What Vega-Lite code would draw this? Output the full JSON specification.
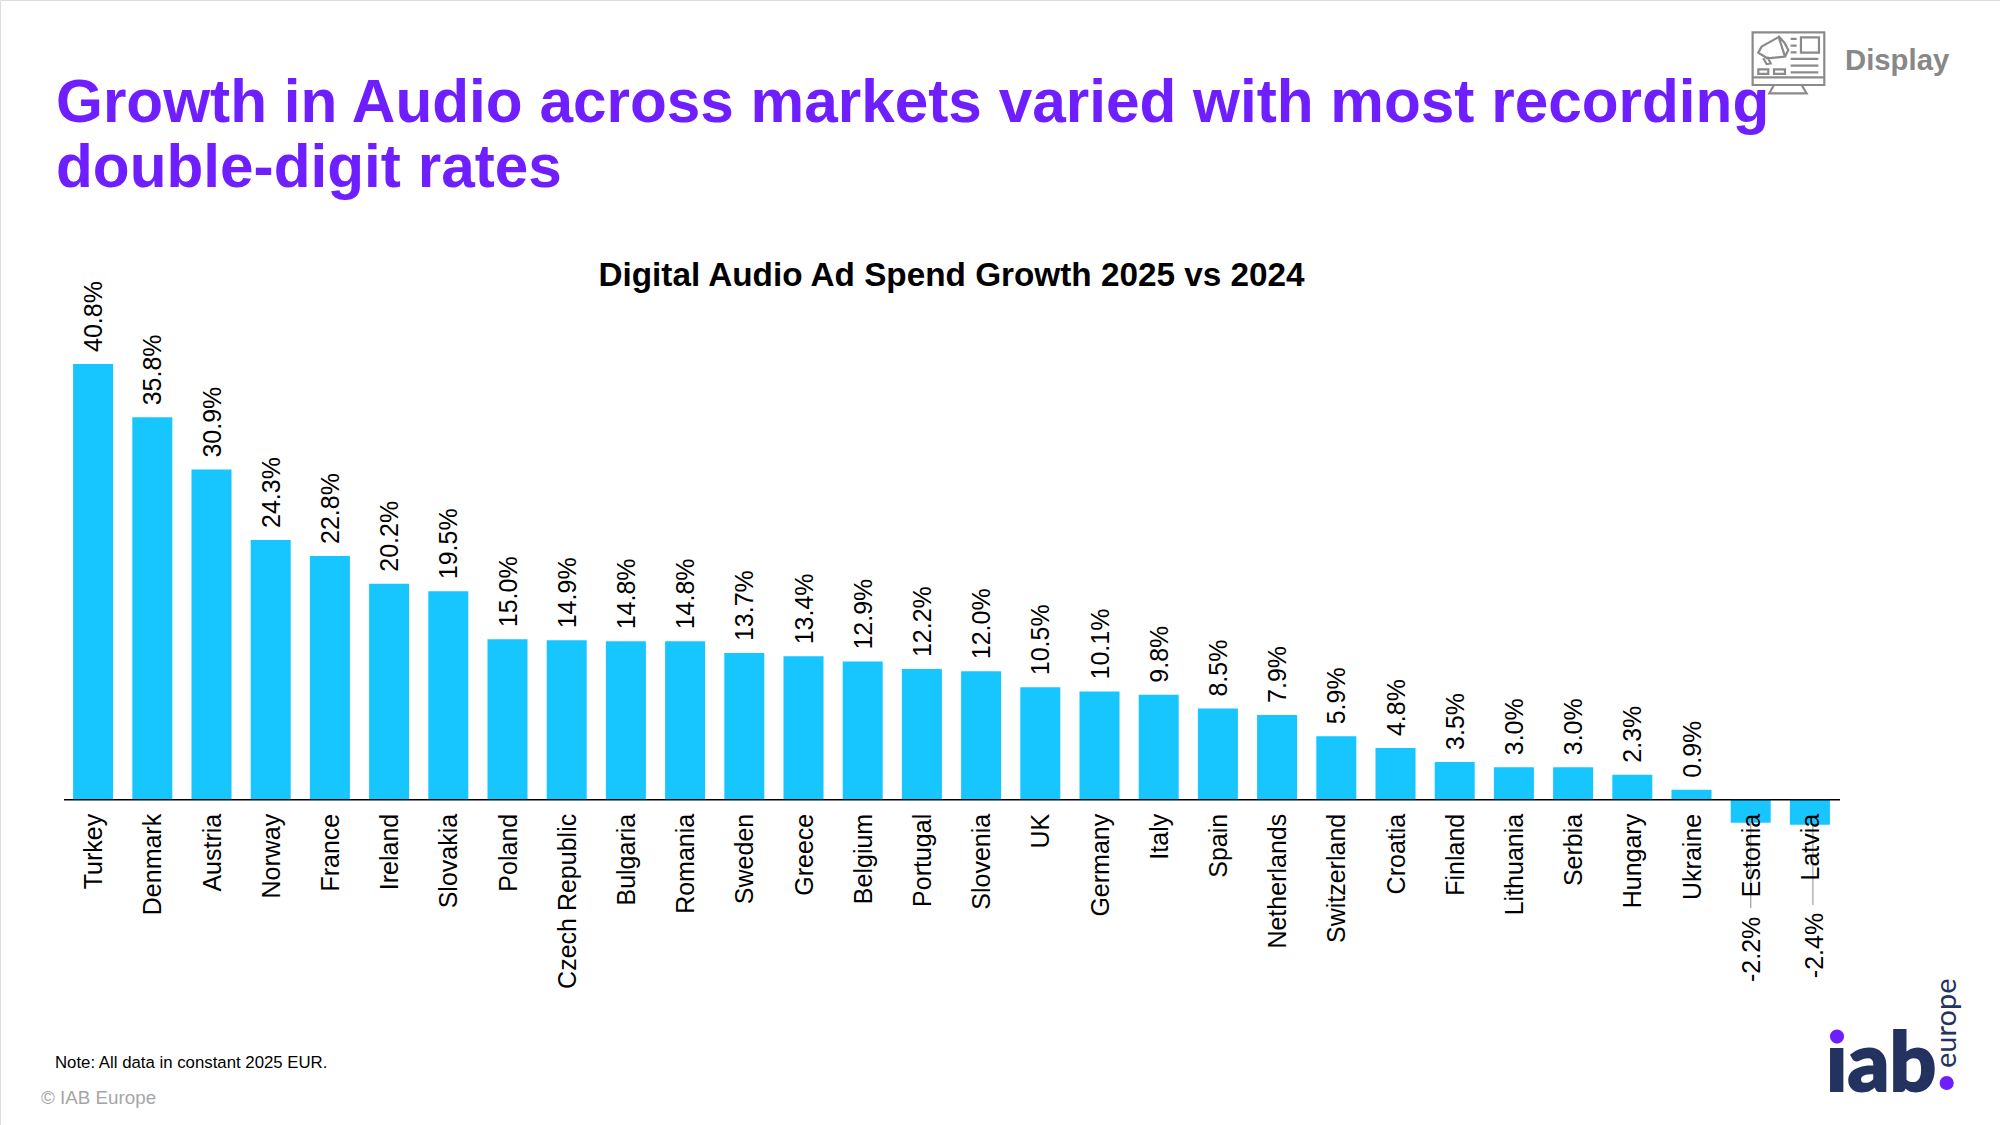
{"$schema":"https://vega.github.io/schema/vega-lite/v6.json","width":2000,"height":1125,"padding":0,"autosize":{"type":"none"},"background":"white","title":{"text":["Growth in Audio across markets varied with most recording","double-digit rates"],"anchor":"start","frame":"group","dx":56,"dy":199,"offset":0,"font":"Liberation Sans","fontWeight":"bold","fontSize":60.3,"lineHeight":65,"color":"#6f1fff"},"data":{"values":[{"country":"Turkey","growth":40.8,"label":"40.8%"},{"country":"Denmark","growth":35.8,"label":"35.8%"},{"country":"Austria","growth":30.9,"label":"30.9%"},{"country":"Norway","growth":24.3,"label":"24.3%"},{"country":"France","growth":22.8,"label":"22.8%"},{"country":"Ireland","growth":20.2,"label":"20.2%"},{"country":"Slovakia","growth":19.5,"label":"19.5%"},{"country":"Poland","growth":15.0,"label":"15.0%"},{"country":"Czech Republic","growth":14.9,"label":"14.9%"},{"country":"Bulgaria","growth":14.8,"label":"14.8%"},{"country":"Romania","growth":14.8,"label":"14.8%"},{"country":"Sweden","growth":13.7,"label":"13.7%"},{"country":"Greece","growth":13.4,"label":"13.4%"},{"country":"Belgium","growth":12.9,"label":"12.9%"},{"country":"Portugal","growth":12.2,"label":"12.2%"},{"country":"Slovenia","growth":12.0,"label":"12.0%"},{"country":"UK","growth":10.5,"label":"10.5%"},{"country":"Germany","growth":10.1,"label":"10.1%"},{"country":"Italy","growth":9.8,"label":"9.8%"},{"country":"Spain","growth":8.5,"label":"8.5%"},{"country":"Netherlands","growth":7.9,"label":"7.9%"},{"country":"Switzerland","growth":5.9,"label":"5.9%"},{"country":"Croatia","growth":4.8,"label":"4.8%"},{"country":"Finland","growth":3.5,"label":"3.5%"},{"country":"Lithuania","growth":3.0,"label":"3.0%"},{"country":"Serbia","growth":3.0,"label":"3.0%"},{"country":"Hungary","growth":2.3,"label":"2.3%"},{"country":"Ukraine","growth":0.9,"label":"0.9%"},{"country":"Estonia","growth":-2.2,"label":"-2.2%"},{"country":"Latvia","growth":-2.4,"label":"-2.4%"}]},"encoding":{"x":{"field":"country","type":"nominal","sort":null,"scale":{"range":[63.5,1839.5],"paddingInner":0.324,"paddingOuter":0.162},"axis":{"title":null,"orient":"bottom","offset":-325.7,"labelAngle":-90,"labelOffset":1,"labelFont":"Liberation Sans","labelFontSize":25,"labelColor":"#000000","labelPadding":14,"labelLimit":400,"labelOverlap":false,"ticks":false,"grid":false,"domainColor":"#000000","domainWidth":1.5,"zindex":1}},"y":{"field":"growth","type":"quantitative","scale":{"domain":[-30.53,74.91],"range":[1125,0],"nice":false,"zero":false},"axis":null}},"layer":[{"mark":{"type":"bar","color":"#17c6ff"}},{"transform":[{"filter":"datum.growth>=0"}],"mark":{"type":"text","angle":270,"align":"left","baseline":"middle","dx":12,"dy":1,"font":"Liberation Sans","fontSize":25,"color":"#000000"},"encoding":{"text":{"field":"label"}}},{"transform":[{"filter":"datum.country==='Estonia'"}],"mark":{"type":"rule","color":"#a6a6a6","strokeWidth":1.3},"encoding":{"y2":{"datum":-10.19}}},{"transform":[{"filter":"datum.country==='Latvia'"}],"mark":{"type":"rule","color":"#a6a6a6","strokeWidth":1.3,"xOffset":3},"encoding":{"y2":{"datum":-9.9}}},{"transform":[{"filter":"datum.country==='Estonia'"}],"mark":{"type":"text","angle":270,"align":"right","baseline":"middle","dx":-94,"dy":1,"font":"Liberation Sans","fontSize":25,"color":"#000000"},"encoding":{"text":{"field":"label"}}},{"transform":[{"filter":"datum.country==='Latvia'"}],"mark":{"type":"text","angle":270,"align":"right","baseline":"middle","dx":-88,"dy":5,"font":"Liberation Sans","fontSize":25,"color":"#000000"},"encoding":{"text":{"field":"label"}}},{"data":{"values":[{"t":"Digital Audio Ad Spend Growth 2025 vs 2024"}]},"mark":{"type":"text","x":951.5,"y":286,"align":"center","baseline":"alphabetic","font":"Liberation Sans","fontWeight":"bold","fontSize":33.3,"color":"#000000"},"encoding":{"x":null,"y":null,"text":{"field":"t"}}},{"data":{"values":[{"t":"Note: All data in constant 2025 EUR."}]},"mark":{"type":"text","x":55,"y":1068,"align":"left","baseline":"alphabetic","font":"Liberation Sans","fontSize":16.8,"color":"#000000"},"encoding":{"x":null,"y":null,"text":{"field":"t"}}},{"data":{"values":[{"t":"© IAB Europe"}]},"mark":{"type":"text","x":41,"y":1104,"align":"left","baseline":"alphabetic","font":"Liberation Sans","fontSize":18.8,"color":"#a6a6a6"},"encoding":{"x":null,"y":null,"text":{"field":"t"}}},{"data":{"values":[{"t":"Display"}]},"mark":{"type":"text","x":1845,"y":70,"align":"left","baseline":"alphabetic","font":"Liberation Sans","fontWeight":"bold","fontSize":29.3,"color":"#888888"},"encoding":{"x":null,"y":null,"text":{"field":"t"}}},{"data":{"values":[{"t":"icon"}]},"mark":{"type":"point","x":1788.3,"y":63.3,"size":5476,"filled":false,"opacity":1,"stroke":"#8a8a8a","strokeWidth":2.2,"shape":"M-.964-.838H.973V.586H-.964ZM-.964.378H.973M-.387.586L-.514.811H.495L.36.586M.063-.658H.225M.063-.477H.225M.063-.297H.225M.342-.703H.829V-.288H.342ZM.063-.117H.811M.063.063H.811M.063.243H.811M-.811.162H-.541V.288H-.811ZM-.387.162H-.09V.288H-.387ZM-.288-.694L-.721-.45L-.811-.288L-.568-.135L-.09-.18L-.27-.739L-.1-.55L0-.36L-.09-.18M-.676-.135L-.586.018L-.477 0L-.568-.18"},"encoding":{"x":null,"y":null}},{"data":{"values":[{"t":"ıab"}]},"mark":{"type":"text","x":1826,"y":1091,"align":"left","baseline":"alphabetic","font":"Lato","fontWeight":900,"fontSize":82,"color":"#24325f","stroke":"#24325f","strokeWidth":2},"encoding":{"x":null,"y":null,"text":{"field":"t"}}},{"data":{"values":[{"t":"europe"}]},"mark":{"type":"text","x":1956,"y":1068,"angle":270,"align":"left","baseline":"alphabetic","font":"Lato","fontSize":29,"color":"#24325f"},"encoding":{"x":null,"y":null,"text":{"field":"t"}}},{"data":{"values":[{"t":"dot"}]},"mark":{"type":"point","x":1837,"y":1036.6,"size":200,"filled":true,"opacity":1,"shape":"circle","color":"#6f1fff"},"encoding":{"x":null,"y":null}},{"data":{"values":[{"t":"dot"}]},"mark":{"type":"point","x":1946.7,"y":1083,"size":200,"filled":true,"opacity":1,"shape":"circle","color":"#6f1fff"},"encoding":{"x":null,"y":null}}]}
